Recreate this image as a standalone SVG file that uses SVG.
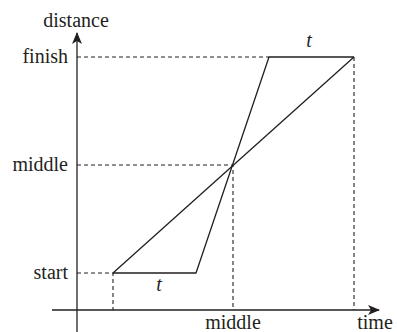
<svg xmlns="http://www.w3.org/2000/svg" width="397" height="332" viewBox="0 0 397 332">
<style>
text{font-family:'Liberation Serif','DejaVu Serif',serif;font-size:20px;fill:#231f20}
.ax{stroke:#231f20;stroke-width:1.3;fill:none}
.d{stroke:#231f20;stroke-width:1.1;stroke-dasharray:4,3;fill:none}
.c{stroke:#231f20;stroke-width:1.3;fill:none;stroke-linejoin:round}
.it{font-style:italic}
</style>
<defs>
<marker id="ah" markerWidth="12" markerHeight="10" refX="11" refY="5" orient="auto" markerUnits="userSpaceOnUse">
<path d="M0,0 L12,5 L0,10 L3,5 Z" fill="#231f20"/>
</marker>
</defs>
<g id="axes">
<line class="ax" x1="77" y1="332" x2="77" y2="33" marker-end="url(#ah)"/>
<line class="ax" x1="52" y1="310" x2="379" y2="310" marker-end="url(#ah)"/>
</g>
<g id="guides">
<polyline class="d" points="77,57 269,57"/>
<polyline class="d" points="354,57 354,310"/>
<polyline class="d" points="77,165 233,165 233,310"/>
<polyline class="d" points="77,273 113,273 113,310"/>
</g>
<g id="connectors">
<polyline class="c" points="113,273 196,273 269,57 354,57"/>
<line class="c" x1="113" y1="273" x2="354" y2="57"/>
</g>
<g id="labels">
<text x="76" y="27" text-anchor="middle" font-family="Liberation Serif">distance</text>
<text x="68" y="63" text-anchor="end">finish</text>
<text x="68" y="171" text-anchor="end">middle</text>
<text x="68" y="279" text-anchor="end">start</text>
<text x="233" y="329" text-anchor="middle">middle</text>
<text x="375" y="329" text-anchor="middle">time</text>
<text class="it" x="309" y="47" text-anchor="middle">t</text>
<text class="it" x="159" y="291" text-anchor="middle">t</text>
</g>
</svg>
